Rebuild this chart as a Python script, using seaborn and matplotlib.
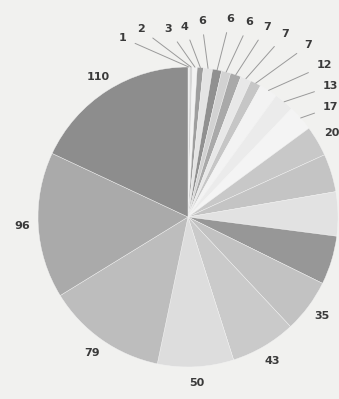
import numpy as np
import matplotlib
matplotlib.use("Agg")
import matplotlib.pyplot as plt
import seaborn as sns

# ---- data ----
values = [1, 2, 3, 4, 6, 6, 6, 7, 7, 7, 12, 13, 17, 20, 25, 29, 32, 35, 43, 50, 79, 96, 110]
labels = [str(v) for v in values]
shades = ['#ececec', '#d6d6d6', '#f2f2f2', '#9e9e9e', '#e4e4e4', '#909090', '#d2d2d2',
          '#a9a9a9', '#e8e8e8', '#c6c6c6', '#f3f3f3', '#ebebeb', '#f4f4f4', '#c8c8c8',
          '#c4c4c4', '#e2e2e2', '#979797', '#c2c2c2', '#cacaca', '#dddddd', '#bdbdbd',
          '#aaaaaa', '#8d8d8d']

# ---- layout of leader-line labels (angle in degrees, radius in pie radii) ----
leader_angles = [110, 104, 96, 91, 86, 78, 72.5, 67.5, 62, 55, 48, 42.5, 37.5]
leader_radii = [1.27, 1.29, 1.26, 1.27, 1.31, 1.35, 1.36, 1.37, 1.38, 1.40, 1.36, 1.29, 1.20]
n_leader = len(leader_angles)

sns.set_theme(style="white")
plt.rcParams['font.family'] = ['DejaVu Sans']

bg = '#f1f1ef'
fig = plt.figure(figsize=(3.39, 3.99), dpi=100, facecolor=bg)
ax = fig.add_axes([0, 0, 1, 1])
ax.set_facecolor(bg)

wedges, _ = ax.pie(values, colors=shades, startangle=90, counterclock=False,
                   radius=1.0, wedgeprops=dict(linewidth=0.3, edgecolor='#f4f4f4'))

txt_kw = dict(fontsize=8, fontweight='bold', color='#3a3a3a', ha='center', va='center')

# leader-line labels for the small slices
for i, w in enumerate(wedges[:n_leader]):
    mid = np.deg2rad((w.theta1 + w.theta2) / 2)
    ang = np.deg2rad(leader_angles[i])
    r = leader_radii[i]
    lx, ly = r * np.cos(ang), r * np.sin(ang)
    ax.annotate(labels[i], xy=(np.cos(mid), np.sin(mid)), xytext=(lx, ly),
                arrowprops=dict(arrowstyle='-', color='#9a9a9a', lw=0.7,
                                shrinkA=4, shrinkB=0), **txt_kw)

# direct labels for the larger slices
for i, w in enumerate(wedges[n_leader:], start=n_leader):
    mid = np.deg2rad((w.theta1 + w.theta2) / 2)
    ax.text(1.11 * np.cos(mid), 1.11 * np.sin(mid), labels[i], **txt_kw)

ax.set_xlim(-188 / 150, (339 - 188) / 150)
ax.set_ylim(-(399 - 217) / 150, 217 / 150)
ax.set_aspect('equal')
ax.axis('off')

fig.savefig('out.png', dpi=100, facecolor=bg)
